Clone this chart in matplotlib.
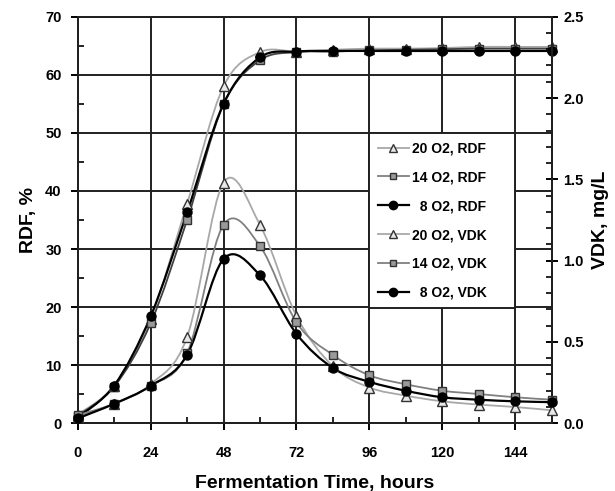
import numpy as np
import matplotlib.pyplot as plt
from matplotlib.path import Path
from matplotlib.patches import PathPatch
from matplotlib.lines import Line2D
from matplotlib.ticker import MultipleLocator, FormatStrFormatter

plt.rcParams['font.family'] = ['Liberation Sans', 'DejaVu Sans']
plt.rcParams['font.weight'] = 'bold'

# fermentation time, hours
hours = [0, 12, 24, 36, 48, 60, 72, 84, 96, 108, 120, 132, 144, 156]

# RDF, %
rdf_20 = [1.5, 6.5, 18.0, 37.8, 58.0, 63.9, 64.0, 64.3, 64.5, 64.5, 64.6, 64.8, 64.8, 64.8]
rdf_14 = [1.3, 6.3, 17.2, 35.0, 54.9, 62.5, 63.9, 64.0, 64.2, 64.3, 64.4, 64.5, 64.5, 64.5]
rdf_8 = [1.0, 6.5, 18.4, 36.3, 55.0, 63.0, 64.0, 64.1, 64.1, 64.1, 64.1, 64.1, 64.1, 64.1]

# VDK, mg/L
vdk_20 = [0.04, 0.12, 0.24, 0.53, 1.48, 1.22, 0.66, 0.35, 0.22, 0.17, 0.135, 0.115, 0.10, 0.08]
vdk_14 = [0.05, 0.12, 0.23, 0.43, 1.22, 1.09, 0.62, 0.42, 0.295, 0.24, 0.20, 0.18, 0.16, 0.145]
vdk_8 = [0.03, 0.12, 0.23, 0.42, 1.01, 0.91, 0.55, 0.34, 0.255, 0.20, 0.16, 0.145, 0.135, 0.13]


def smooth_path(x, y):
    # Excel-like smoothed line: cubic bezier through every point
    x = np.asarray(x, float)
    y = np.asarray(y, float)
    n = len(x)
    verts = [(x[0], y[0])]
    codes = [Path.MOVETO]
    for i in range(n - 1):
        i0 = max(i - 1, 0)
        i3 = min(i + 2, n - 1)
        c1 = (x[i] + (x[i + 1] - x[i0]) / 6, y[i] + (y[i + 1] - y[i0]) / 6)
        c2 = (x[i + 1] - (x[i3] - x[i]) / 6, y[i + 1] - (y[i3] - y[i]) / 6)
        verts += [c1, c2, (x[i + 1], y[i + 1])]
        codes += [Path.CURVE4] * 3
    return Path(verts, codes)


fig = plt.figure(figsize=(6.15, 4.91), dpi=100)
ax = fig.add_axes([0.1263, 0.1379, 0.7708, 0.8281])
ax2 = ax.twinx()

styles = {
    '20': dict(line='#a8a8a8', marker='^', mfc='#e8e8e8', mec='#333333', ms=6.5),
    '14': dict(line='#808080', marker='s', mfc='#9a9a9a', mec='#333333', ms=5.5),
    '8': dict(line='#000000', marker='o', mfc='#000000', mec='#000000', ms=6.5),
}
rdf_line = {'20': '#a8a8a8', '14': '#404040', '8': '#000000'}

series = [
    (ax, '20', rdf_20, '20 O2, RDF'),
    (ax, '14', rdf_14, '14 O2, RDF'),
    (ax, '8', rdf_8, '  8 O2, RDF'),
    (ax2, '20', vdk_20, '20 O2, VDK'),
    (ax2, '14', vdk_14, '14 O2, VDK'),
    (ax2, '8', vdk_8, '  8 O2, VDK'),
]

handles = []
for a, key, vals, lab in series:
    st = styles[key]
    color = rdf_line[key] if a is ax else st['line']
    lw = 1.6 if key == '8' else 1.3
    a.add_patch(PathPatch(smooth_path(hours, vals), fill=False, edgecolor=color,
                          lw=lw, zorder=3))
    a.plot(hours, vals, ls='none', marker=st['marker'], ms=st['ms'],
           mfc=st['mfc'], mec=st['mec'], mew=1.0, zorder=4, clip_on=False)
    handles.append(Line2D([], [], color=st['line'] if key != '8' else '#000000', lw=lw,
                          marker=st['marker'], ms=st['ms'] - 0.5, mfc=st['mfc'],
                          mec=st['mec'], mew=1.0, label=lab))

ax.set_xlim(0, 156)
ax.set_ylim(0, 70)
ax2.set_ylim(0, 2.5)

ax.xaxis.set_major_locator(MultipleLocator(24))
ax.xaxis.set_minor_locator(MultipleLocator(12))
ax.yaxis.set_major_locator(MultipleLocator(10))
ax.yaxis.set_minor_locator(MultipleLocator(5))
ax2.yaxis.set_major_locator(MultipleLocator(0.5))
ax2.yaxis.set_minor_locator(MultipleLocator(0.1))
ax2.yaxis.set_major_formatter(FormatStrFormatter('%.1f'))

ax.grid(True, which='major', color='#202020', lw=1.4)
ax.set_axisbelow(True)

for a in (ax, ax2):
    for s in a.spines.values():
        s.set_linewidth(1.4)
        s.set_color('#202020')

ax.tick_params(which='major', direction='out', length=5, width=1.4, labelsize=10.5, pad=6.5)
ax.tick_params(which='minor', direction='in', length=4, width=1.2)
ax.tick_params(axis='x', pad=11)
ax2.tick_params(which='major', direction='inout', length=9, width=1.4, labelsize=10.5, pad=4)
ax2.tick_params(which='minor', direction='in', length=4, width=1.2)

ax.set_xlabel('Fermentation Time, hours', fontsize=14, fontweight='bold', labelpad=11)
ax.set_ylabel('RDF, %', fontsize=14, fontweight='bold', labelpad=6)
ax2.set_ylabel('VDK, mg/L', fontsize=14, fontweight='bold', labelpad=6)

leg = ax2.legend(handles=handles, loc='upper left', mode='expand',
                 bbox_to_anchor=(96 / 156, 20 / 70, 48 / 156, 30 / 70),
                 bbox_transform=ax.transAxes, borderaxespad=0,
                 fontsize=10, handlelength=2.2, handletextpad=0.25,
                 labelspacing=1.07, borderpad=0.62, fancybox=False,
                 framealpha=1, edgecolor='#202020')
leg.get_frame().set_linewidth(1.4)
for t in leg.get_texts():
    t.set_fontweight('bold')

fig.savefig('out.png', dpi=100, facecolor='white')
